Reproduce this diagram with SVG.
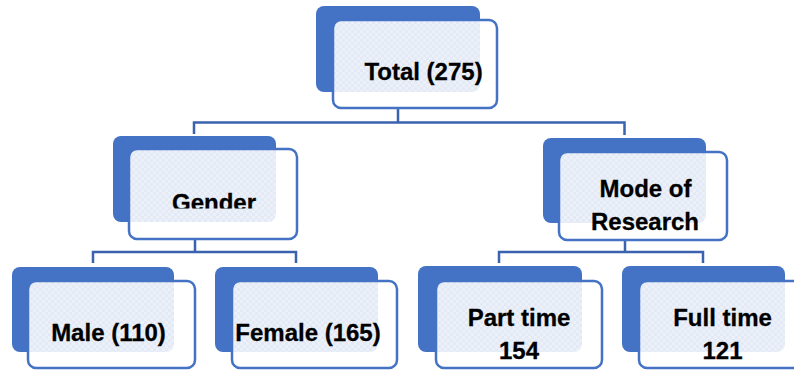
<svg xmlns="http://www.w3.org/2000/svg" width="794" height="370" viewBox="0 0 794 370">
<defs>
<pattern id="pat" width="6" height="6" patternUnits="userSpaceOnUse">
<rect width="6" height="6" fill="#ffffff" fill-opacity="0.85"/>
<rect x="0" y="0" width="3" height="3" fill="#ffffff" fill-opacity="0.3"/>
<rect x="3" y="3" width="3" height="3" fill="#ffffff" fill-opacity="0.3"/>
</pattern>
<clipPath id="clipGender"><rect x="120" y="140" width="200" height="68.5"/></clipPath>
</defs>
<style>
.back{fill:#4472C4}
.front{fill:url(#pat);stroke:#4472C4;stroke-width:2.5}
.lbl{font-family:"Liberation Sans",Arial,sans-serif;font-weight:bold;font-size:24px;fill:#000;stroke:#000;stroke-width:0.3;text-anchor:middle}
.conn{fill:none;stroke:#3A62AE;stroke-width:2.5}
</style>
<g id="connectors">
<path class="conn" d="M398 108V122.5M194 134V122.5H624.5V135"/>
<path class="conn" d="M195 239V252M93 263V252H296V263"/>
<path class="conn" d="M625 240V252M499 263V252H703V263"/>
</g>
<g id="total">
<rect class="back" x="316" y="6" width="164" height="86" rx="8"/>
<rect class="front" x="333" y="20" width="164" height="88" rx="8"/>
<text class="lbl" x="423.5" y="80">Total (275)</text>
</g>
<g id="gender">
<rect class="back" x="113" y="136" width="163" height="86" rx="8"/>
<rect class="front" x="129" y="149" width="168" height="90" rx="8"/>
<text class="lbl" x="214" y="211" clip-path="url(#clipGender)">Gender</text>
</g>
<g id="mode">
<rect class="back" x="543" y="138" width="163" height="85" rx="8"/>
<rect class="front" x="559" y="152" width="168" height="88" rx="8"/>
<text class="lbl" x="645.5" y="197">Mode of</text>
<text class="lbl" x="645" y="230">Research</text>
</g>
<g id="male">
<rect class="back" x="12" y="267" width="162" height="85" rx="8"/>
<rect class="front" x="28" y="281" width="167" height="87" rx="8"/>
<text class="lbl" x="108.5" y="341">Male (110)</text>
</g>
<g id="female">
<rect class="back" x="215" y="267" width="163" height="85" rx="8"/>
<rect class="front" x="232" y="281" width="165" height="87" rx="8"/>
<text class="lbl" x="308" y="341">Female (165)</text>
</g>
<g id="parttime">
<rect class="back" x="418" y="266" width="164" height="86" rx="8"/>
<rect class="front" x="436" y="281" width="166" height="87" rx="8"/>
<text class="lbl" x="519" y="326">Part time</text>
<text class="lbl" x="519" y="359">154</text>
</g>
<g id="fulltime">
<rect class="back" x="622" y="266" width="163" height="86" rx="8"/>
<rect class="front" x="639" y="281" width="168" height="87" rx="8"/>
<text class="lbl" x="722.5" y="326">Full time</text>
<text class="lbl" x="722.5" y="359">121</text>
</g>
</svg>
